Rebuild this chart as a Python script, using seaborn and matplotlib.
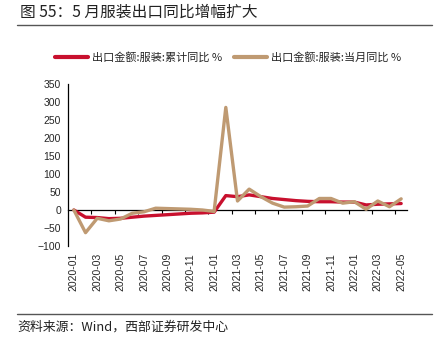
import numpy as np
import pandas as pd
import matplotlib
matplotlib.use("Agg")
import matplotlib.pyplot as plt
from matplotlib.lines import Line2D
import seaborn as sns

# ---- data ----
months = ["2020-01", "2020-02", "2020-03", "2020-04", "2020-05", "2020-06", "2020-07",
          "2020-08", "2020-09", "2020-10", "2020-11", "2020-12", "2021-01", "2021-02",
          "2021-03", "2021-04", "2021-05", "2021-06", "2021-07", "2021-08", "2021-09",
          "2021-10", "2021-11", "2021-12", "2022-01", "2022-02", "2022-03", "2022-04",
          "2022-05"]
cum_yoy = [0, -20, -21, -24, -23, -20, -17, -15, -13, -11, -9, -8, -6, 40, 37,
           42, 37, 32, 29, 26, 24, 23, 23, 22, 22, 14, 16, 17, 18]
mon_yoy = [0, -63, -23, -30, -25, -9, -5, 5, 4, 3, 2, 0, -4, 285, 25,
           58, 37, 19, 8, 9, 11, 32, 32, 19, 23, 2, 25, 9, 31]
series_names = ["出口金额:服装:累计同比 %", "出口金额:服装:当月同比 %"]
series_colors = ["#C8102E", "#BF9A72"]
yticks = list(range(-100, 351, 50))

idx = list(range(len(months)))
df = pd.DataFrame({
    "idx": idx * 2,
    "value": cum_yoy + mon_yoy,
    "series": [series_names[0]] * len(months) + [series_names[1]] * len(months),
})

sns.set_style("white")
plt.rcParams["font.family"] = ["Noto Sans CJK SC", "DejaVu Sans"]
plt.rcParams["axes.unicode_minus"] = True

fig = plt.figure(figsize=(4.37, 3.44), dpi=100)
ax = fig.add_axes([68 / 437, 1 - 246 / 344, (407 - 68) / 437, (246 - 84) / 344])

sns.lineplot(data=df, x="idx", y="value", hue="series", hue_order=series_names,
             palette=series_colors, linewidth=2.4, ax=ax, legend=False)

ax.set_xlim(-0.5, len(months) - 0.5)
ax.set_ylim(yticks[0], yticks[-1])
ax.set_yticks(yticks)
ax.set_yticklabels([str(v).replace("-", "\u2212") for v in yticks],
                   fontfamily="Liberation Sans", fontsize=7.5)
ax.set_xticks(idx[::2])
ax.set_xticklabels(months[::2], rotation=90, fontfamily="Liberation Sans", fontsize=7.5)
ax.tick_params(axis="x", length=0, pad=5)
ax.tick_params(axis="y", length=3, width=0.8, direction="out", color="black", pad=2)
ax.set_xlabel("")
ax.set_ylabel("")
for s in ["top", "right", "bottom"]:
    ax.spines[s].set_visible(False)
ax.spines["left"].set_color("black")
ax.spines["left"].set_linewidth(0.9)

# zero axis with tick marks between categories
loc0 = (0 - yticks[0]) / (yticks[-1] - yticks[0])
sec = ax.secondary_xaxis(loc0)
sec.set_xticks(np.arange(1.5, len(months) - 1, 2))
sec.set_xticklabels([])
sec.tick_params(length=3, width=0.8, direction="out", color="black")
sec.spines["bottom"].set_color("black")
sec.spines["bottom"].set_linewidth(0.9)

# legend
handles = [Line2D([0], [0], color=c, lw=3) for c in series_colors]
fig.legend(handles, series_names, loc="center", bbox_to_anchor=(228 / 437, 1 - 57 / 344),
           ncol=2, frameon=False, fontsize=8, handlelength=3.0, handletextpad=0.4,
           columnspacing=1.0)

# title, rules, source
fig.text(20 / 437, 1 - 12 / 344, "图 55：5 月服装出口同比增幅扩大", fontsize=11.3,
         va="center", ha="left", color="#222222")
fig.add_artist(Line2D([17 / 437, 432 / 437], [1 - 24.5 / 344] * 2, color="#555555", lw=1))
fig.add_artist(Line2D([17 / 437, 432 / 437], [1 - 313.5 / 344] * 2, color="#555555", lw=1))
fig.text(17 / 437, 1 - 327 / 344, "资料来源：Wind，西部证券研发中心", fontsize=9.3,
         va="center", ha="left", color="#222222")

fig.savefig("out.png", dpi=100)
